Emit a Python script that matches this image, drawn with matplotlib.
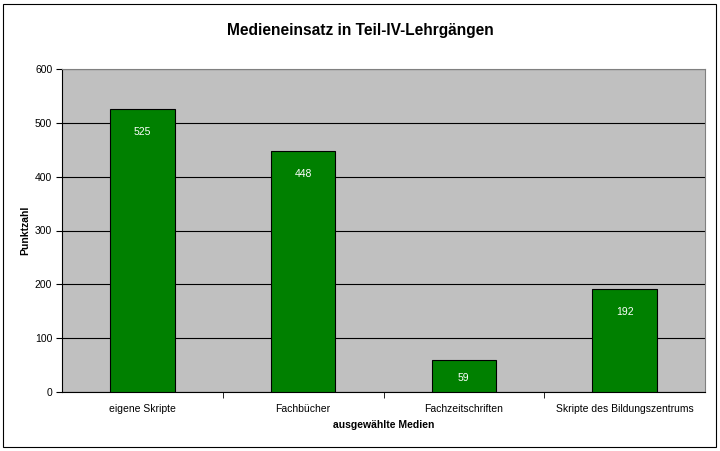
import matplotlib
matplotlib.use("Agg")
from matplotlib import pyplot as plt
from matplotlib.patches import Rectangle

plt.rcParams['font.family'] = ['Liberation Sans', 'DejaVu Sans']

kategorien = ["eigene Skripte", "Fachbücher", "Fachzeitschriften", "Skripte des Bildungszentrums"]
punkte = [525, 448, 59, 192]
y_ticks = [0, 100, 200, 300, 400, 500, 600]

fig = plt.figure(figsize=(7.2, 4.51), dpi=100)
ax = fig.add_axes([62/720, 1 - 392/451, (705 - 62)/720, (392 - 69)/451])
ax.set_facecolor('#C0C0C0')

pos = range(len(kategorien))
bars = ax.bar(pos, punkte, width=0.4, color='#008000', edgecolor='black', linewidth=0.8, zorder=3)

# Beschriftung innen oben, bei kleinen Balken mittig
px_per_unit = 323 / 600
for b, v in zip(bars, punkte):
    off_px = min(23, v * px_per_unit / 2 + 2)
    ax.annotate(str(v), (b.get_x() + b.get_width()/2, v), xytext=(0, -off_px * 0.72), textcoords='offset points',
                ha='center', va='center', color='white', fontsize=7.5, zorder=4)

ax.set_xlim(-0.5, len(kategorien) - 0.5)
ax.set_ylim(0, 600)
ax.set_yticks(y_ticks)
ax.yaxis.grid(True, color='black', linewidth=0.8, zorder=1)
ax.set_axisbelow(True)
ax.set_xticks(list(pos))
ax.set_xticklabels(kategorien, fontsize=7.5)
ax.set_xticks([i + 0.5 for i in range(len(kategorien) - 1)], minor=True)
ax.tick_params(axis='x', which='major', length=0, pad=9)
ax.tick_params(axis='x', which='minor', length=4, direction='out', color='black')
ax.tick_params(axis='y', labelsize=7.5, length=4, direction='out', pad=3)

for s in ['top', 'right']:
    ax.spines[s].set_color('#808080')
for s in ['left', 'bottom']:
    ax.spines[s].set_color('black')

ax.set_xlabel("ausgewählte Medien", fontsize=7.5, fontweight='bold', labelpad=4)
ax.set_ylabel("Punktzahl", fontsize=7.5, fontweight='bold', labelpad=3)
fig.text(360/720, 1 - 30/451, "Medieneinsatz in Teil-IV-Lehrgängen", ha='center', va='center',
         fontsize=11.2, fontweight='bold')

fig.patches.append(Rectangle((3/720, 4/451), 713/720, 443/451, transform=fig.transFigure,
                             fill=False, edgecolor='black', linewidth=0.8))

fig.savefig("out.png", dpi=100)
